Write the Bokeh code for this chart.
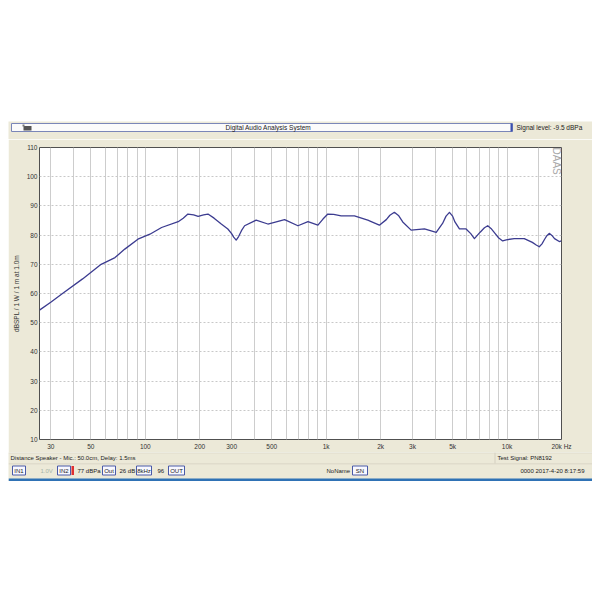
import math
from bokeh.plotting import figure
from bokeh.models import FixedTicker, Label, Spacer, Range1d
from bokeh.layouts import column, row
from bokeh.core.properties import value
from bokeh.embed import file_html
from bokeh.resources import INLINE

# ---- data ----
freq = [26, 30, 35, 45, 57, 68, 77, 91, 106, 123, 152, 162, 172, 185, 196, 210, 222,
        240, 263, 286, 300, 308, 318, 328, 340, 354, 410, 476, 589, 698, 793, 900,
        960, 1021, 1100, 1210, 1433, 1698, 1968, 2150, 2250, 2382, 2520, 2650, 2949,
        3494, 4058, 4400, 4600, 4803, 5000, 5150, 5454, 5935, 6300, 6600, 7100, 7500,
        7820, 8150, 8600, 9000, 9460, 9900, 10960, 12450, 13800, 14500, 15070, 15600,
        16100, 16600, 17110, 17700, 18300, 19440, 20000]
spl = [54.3, 57.0, 60.1, 65.0, 70.0, 72.3, 75.2, 78.6, 80.3, 82.6, 84.6, 85.8, 87.2,
       86.9, 86.4, 86.9, 87.2, 85.8, 83.8, 82.1, 80.5, 79.3, 78.3, 79.5, 81.5, 83.2,
       85.1, 83.8, 85.3, 83.2, 84.6, 83.4, 85.5, 87.2, 87.1, 86.6, 86.6, 85.1, 83.4,
       85.3, 86.8, 87.8, 86.6, 84.5, 81.7, 82.1, 80.9, 84.0, 86.5, 87.8, 86.5, 84.5,
       82.1, 82.1, 80.5, 78.8, 81.0, 82.5, 83.2, 82.3, 80.5, 79.0, 78.0, 78.4, 78.8,
       78.8, 77.5, 76.6, 76.0, 77.0, 78.5, 79.8, 80.6, 79.9, 78.8, 77.8, 78.0]

y_ticks = [10, 20, 30, 40, 50, 60, 70, 80, 90, 100, 110]
x_ticks = [30, 50, 100, 200, 300, 500, 1000, 2000, 3000, 5000, 10000, 20000]
x_tick_labels = ["30", "50", "100", "200", "300", "500", "1k", "2k", "3k", "5k", "10k", "20k Hz"]
grid_mult = [1, 1.5, 2, 3, 4, 5, 6, 7, 8, 9]
decades = [10, 100, 1000, 10000]

title_text = "Digital Audio Analysis System"
signal_text = "Signal level: -9.5 dBPa"
y_title = "dBSPL / 1 W / 1 m at 1.0m"
info_left = "Distance Speaker - Mic.: 50.0cm, Delay: 1.5ms"
info_right = "Test Signal: PN8192"
date_text = "0000 2017-4-20 8:17:59"

status_boxed = ["IN1", "IN2", "Out", "8kHz", "OUT", "SN"]
status_plain = ["1.0V", "77 dBPa", "26 dB", "96", "NoName"]

grid_freqs = [m * d for d in decades for m in grid_mult if 26 < m * d <= 20000]

BEIGE = "#ECE9D8"
FONT = "Liberation Sans"
W = 584
X0 = 8


def strip_fig(y_top, y_bot):
    f = figure(width=W, height=y_bot - y_top, x_range=Range1d(X0, X0 + W),
               y_range=Range1d(y_bot, y_top), output_backend="svg", toolbar_location=None,
               x_axis_location=None, y_axis_location=None, min_border=0)
    f.min_border_left = f.min_border_right = f.min_border_top = f.min_border_bottom = 0
    f.background_fill_color = BEIGE
    f.border_fill_color = BEIGE
    f.outline_line_color = None
    f.xgrid.visible = False
    f.ygrid.visible = False
    return f


def txt(f, x, y, s, align="left", size="6px", color="#222222", angle=0.0):
    f.text(x=[x], y=[y], text=[s], text_font=value(FONT), text_font_size=value(size),
           text_color=color, text_align=align, text_baseline="middle", angle=angle)


# ---------------- header ----------------
hdr = strip_fig(121, 139)
hdr.quad(left=[11], right=[512], top=[123], bottom=[131], fill_color="#fbfbfb",
         line_color="#7a86b8", line_width=1)
hdr.quad(left=[510], right=[512], top=[123], bottom=[131], fill_color="#3a4fb0", line_color=None)
hdr.quad(left=[23], right=[31], top=[125.5], bottom=[130], fill_color="#555555", line_color=None)
hdr.quad(left=[22], right=[24], top=[124], bottom=[126], fill_color="#777777", line_color=None)
txt(hdr, 268, 127, title_text, align="center", size="6.5px")
txt(hdr, 516, 127, signal_text, size="6.5px")

# ---------------- main chart ----------------
FL, FR, FT, FB = 39, 561, 147, 440
p = figure(width=W, height=452 - 139, x_axis_type="log", x_range=(26, 20000), y_range=(10, 110),
           output_backend="svg", toolbar_location=None,
           min_border_left=FL - X0, min_border_right=X0 + W - FR,
           min_border_top=FT - 139, min_border_bottom=452 - FB)
p.border_fill_color = BEIGE
p.background_fill_color = "white"
p.outline_line_color = "#505050"
p.outline_line_width = 1

p.xaxis.ticker = FixedTicker(ticks=x_ticks)
p.xaxis.major_label_overrides = {t: l for t, l in zip(x_ticks, x_tick_labels)}
p.yaxis.ticker = FixedTicker(ticks=y_ticks)
for ax in (p.xaxis[0], p.yaxis[0]):
    ax.axis_line_color = None
    ax.major_tick_line_color = None
    ax.minor_tick_line_color = None
    ax.major_tick_out = 0
    ax.major_tick_in = 0
    ax.minor_tick_out = 0
    ax.minor_tick_in = 0
    ax.major_label_text_font = FONT
    ax.major_label_text_font_size = "6.5px"
    ax.major_label_text_color = "#333333"
p.xaxis.major_label_standoff = 3
p.yaxis.major_label_standoff = 2
p.yaxis.axis_label = y_title
p.yaxis.axis_label_text_font = FONT
p.yaxis.axis_label_text_font_size = "6.5px"
p.yaxis.axis_label_text_font_style = "normal"
p.yaxis.axis_label_text_color = "#333333"
p.yaxis.axis_label_standoff = 4

p.xgrid.ticker = FixedTicker(ticks=grid_freqs)
p.xgrid.grid_line_color = "#cdcdcd"
p.xgrid.grid_line_width = 1
p.ygrid.ticker = FixedTicker(ticks=y_ticks)
p.ygrid.grid_line_color = "#c8c8c8"
p.ygrid.grid_line_dash = "2 2"

p.line(freq, spl, line_color="#3c3c90", line_width=1.3, line_join="round")

p.add_layout(Label(x=556 - FL, y=FB - 148, x_units="screen", y_units="screen", text="DAAS",
                   text_font=FONT, text_font_size="10px", text_color="#a8a8a8",
                   text_align="left", text_baseline="middle", angle=-math.pi / 2))

# ---------------- footer ----------------
ftr = strip_fig(452, 481)
ftr.quad(left=[X0], right=[X0 + W], top=[452], bottom=[452.8], fill_color="#d3d0c0", line_color=None)
ftr.quad(left=[X0], right=[X0 + W], top=[463], bottom=[463.8], fill_color="#d3d0c0", line_color=None)
ftr.quad(left=[494], right=[495], top=[452], bottom=[463], fill_color="#d3d0c0", line_color=None)
txt(ftr, 10, 457.5, info_left)
txt(ftr, 497, 457.5, info_right)

box_l = [12, 57, 102, 136, 168, 352]
box_r = [25, 70, 115, 151, 184, 367]
ftr.quad(left=box_l, right=box_r, top=[465.5] * 6, bottom=[474.5] * 6,
         fill_color="#f8f8ff", line_color="#4a5aa8", line_width=1)
for l, r, s in zip(box_l, box_r, status_boxed):
    txt(ftr, (l + r) / 2, 470, s, align="center")
ftr.quad(left=[71], right=[73.5], top=[465.5], bottom=[474.5], fill_color="#e03030", line_color=None)
plain_x = [40, 77, 119, 157, 326]
plain_c = ["#a8b4a8", "#222222", "#222222", "#222222", "#222222"]
for x, s, c in zip(plain_x, status_plain, plain_c):
    txt(ftr, x, 470, s, color=c)
txt(ftr, 584, 470, date_text, align="right")
ftr.quad(left=[X0], right=[X0 + W], top=[478], bottom=[481], fill_color="#2f72b5", line_color=None)

layout = column(Spacer(width=600, height=121),
                row(Spacer(width=X0, height=10), column(hdr)),
                row(Spacer(width=X0, height=10), column(p)),
                row(Spacer(width=X0, height=10), column(ftr)))
open("out.html", "w").write(file_html(layout, INLINE))
